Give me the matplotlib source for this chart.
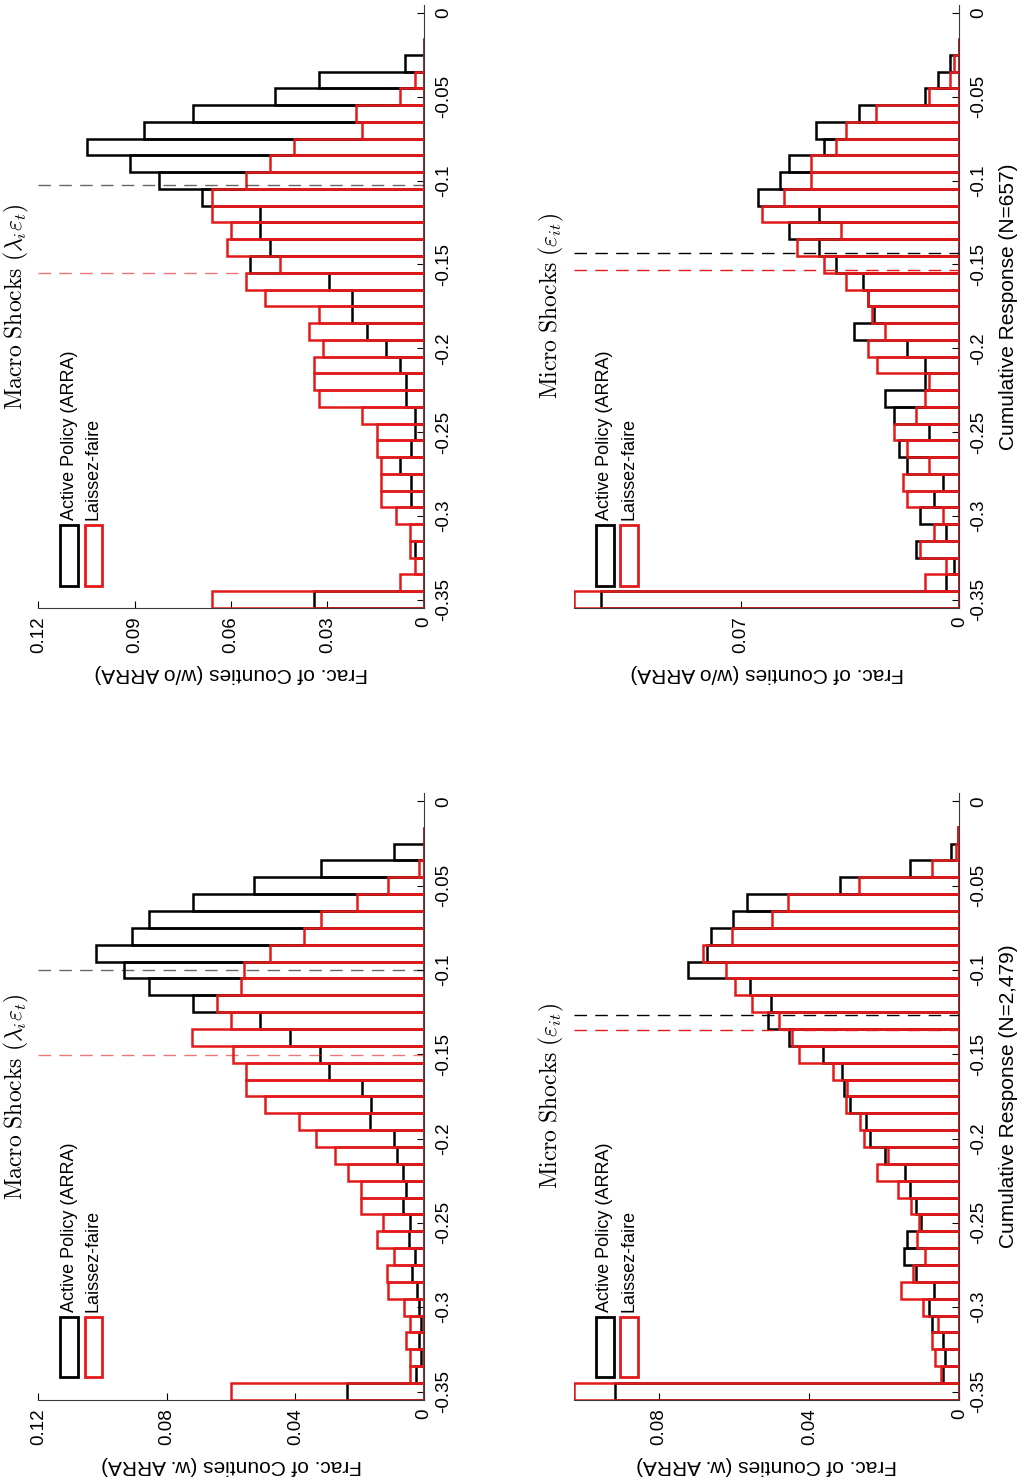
import numpy as np
import matplotlib
matplotlib.use("Agg")
import matplotlib.pyplot as plt
from matplotlib.patches import Rectangle

plt.rcParams['font.family'] = ['Liberation Sans', 'DejaVu Sans']
plt.rcParams['mathtext.fontset'] = 'cm'

# DATA ###############################################################
# bin centres of the cumulative response, lowest bin lumps everything <= -0.35
BIN_CENTERS = [-0.35, -0.34, -0.33, -0.32, -0.31, -0.30, -0.29, -0.28, -0.27,
               -0.26, -0.25, -0.24, -0.23, -0.22, -0.21, -0.20, -0.19, -0.18,
               -0.17, -0.16, -0.15, -0.14, -0.13, -0.12, -0.11, -0.10, -0.09,
               -0.08, -0.07, -0.06, -0.05, -0.04, -0.03, -0.02]
BIN_WIDTH = 0.01

# Macro shocks, w/o ARRA
macro_wo_active = [0.0343, 0.0, 0.0, 0.0028, 0.0, 0.0, 0.0041, 0.0041, 0.0073,
                   0.0041, 0.0028, 0.0028, 0.0057, 0.0057, 0.0073, 0.0117, 0.0176, 0.0223,
                   0.0223, 0.0296, 0.0540, 0.0480, 0.0509, 0.0509, 0.0689, 0.0823, 0.0914,
                   0.1049, 0.0871, 0.0719, 0.0464, 0.0327, 0.0059, 0.0]
macro_wo_laissez = [0.0660, 0.0073, 0.0028, 0.0044, 0.0044, 0.0088, 0.0132, 0.0132, 0.0132,
                    0.0147, 0.0147, 0.0192, 0.0327, 0.0343, 0.0343, 0.0314, 0.0358, 0.0327,
                    0.0493, 0.0554, 0.0449, 0.0613, 0.0599, 0.0660, 0.0660, 0.0554, 0.0480,
                    0.0405, 0.0192, 0.0210, 0.0073, 0.0028, 0.0, 0.0]

# Macro shocks, w. ARRA
macro_w_active = [0.0239, 0.0023, 0.0008, 0.0016, 0.0010, 0.0016, 0.0021, 0.0036, 0.0026,
                  0.0047, 0.0044, 0.0065, 0.0054, 0.0065, 0.0083, 0.0094, 0.0169, 0.0163,
                  0.0194, 0.0296, 0.0322, 0.0416, 0.0511, 0.0719, 0.0855, 0.0933, 0.1021,
                  0.0907, 0.0855, 0.0719, 0.0528, 0.0320, 0.0094, 0.0]
macro_w_laissez = [0.0600, 0.0042, 0.0044, 0.0057, 0.0042, 0.0062, 0.0111, 0.0116, 0.0094,
                   0.0145, 0.0127, 0.0197, 0.0197, 0.0236, 0.0275, 0.0335, 0.0388, 0.0494,
                   0.0554, 0.0554, 0.0595, 0.0722, 0.0600, 0.0644, 0.0569, 0.0559, 0.0480,
                   0.0374, 0.0320, 0.0208, 0.0111, 0.0014, 0.0, 0.0]

# Micro shocks, w/o ARRA
micro_wo_active = [0.1147, 0.0043, 0.0016, 0.0139, 0.0043, 0.0125, 0.0082, 0.0053, 0.0167,
                   0.0195, 0.0099, 0.0211, 0.0238, 0.0110, 0.0110, 0.0167, 0.0336, 0.0275,
                   0.0293, 0.0309, 0.0394, 0.0450, 0.0545, 0.0450, 0.0645, 0.0575, 0.0545,
                   0.0434, 0.0460, 0.0322, 0.0110, 0.0069, 0.0029, 0.0]
micro_wo_laissez = [0.1233, 0.0110, 0.0043, 0.0125, 0.0082, 0.0053, 0.0167, 0.0181, 0.0096,
                    0.0167, 0.0208, 0.0139, 0.0110, 0.0099, 0.0263, 0.0293, 0.0237, 0.0279,
                    0.0293, 0.0364, 0.0434, 0.0519, 0.0378, 0.0632, 0.0561, 0.0476, 0.0476,
                    0.0394, 0.0364, 0.0266, 0.0099, 0.0029, 0.0016, 0.0]

# Micro shocks, w. ARRA
micro_w_active = [0.0918, 0.0045, 0.0038, 0.0045, 0.0074, 0.0080, 0.0069, 0.0116, 0.0147,
                  0.0139, 0.0102, 0.0116, 0.0133, 0.0145, 0.0198, 0.0238, 0.0249, 0.0292,
                  0.0308, 0.0314, 0.0364, 0.0453, 0.0509, 0.0503, 0.0558, 0.0724, 0.0672,
                  0.0663, 0.0603, 0.0567, 0.0318, 0.0133, 0.0022, 0.0003]
micro_w_laissez = [0.1027, 0.0049, 0.0065, 0.0074, 0.0058, 0.0098, 0.0156, 0.0125, 0.0093,
                   0.0114, 0.0109, 0.0129, 0.0165, 0.0220, 0.0191, 0.0254, 0.0265, 0.0302,
                   0.0299, 0.0338, 0.0427, 0.0445, 0.0480, 0.0554, 0.0598, 0.0623, 0.0683,
                   0.0607, 0.0499, 0.0456, 0.0267, 0.0074, 0.0009, 0.0005]

# mean responses (dashed lines): [active, laissez-faire]
macro_wo_means = [-0.1028, -0.1550]
macro_w_means = [-0.0998, -0.1502]
micro_wo_means = [-0.1433, -0.1534]
micro_w_means = [-0.1267, -0.1356]

RESP_TICKS = [-0.35, -0.3, -0.25, -0.2, -0.15, -0.1, -0.05, 0]
RESP_TICKLABELS = ['-0.35', '-0.3', '-0.25', '-0.2', '-0.15', '-0.1', '-0.05', '0']

LEGEND_LABELS = ['Active Policy (ARRA)', 'Laissez-faire']

# STYLE ##############################################################
RED = '#e31a1c'
BLACK = '#000000'
BAR_LW = 1.8
FS_TICK = 13.5
FS_LABEL = 15
FS_TITLE = 17

# figure is drawn in portrait: response runs up, fraction grows to the left
fig = plt.figure(figsize=(10.24, 14.80), dpi=100)

COL_LEFT = [0.0374, 0.5605]
COL_W = 0.3765
ROW_BOTTOM = [0.5892, 0.0541]
ROW_H = [0.4077, 0.4101]

PANELS = [
    # col, row, title, active, laissez, means, xmax, xticks, fraclabel, resplabel, dash alpha
    (0, 0, r'$\mathrm{Macro\ Shocks}\ (\lambda_i\varepsilon_t)$', macro_wo_active, macro_wo_laissez,
     macro_wo_means, 0.12, [0, 0.03, 0.06, 0.09, 0.12], 'Frac. of Counties (w/o ARRA)', None, 0.6),
    (0, 1, r'$\mathrm{Macro\ Shocks}\ (\lambda_i\varepsilon_t)$', macro_w_active, macro_w_laissez,
     macro_w_means, 0.12, [0, 0.04, 0.08, 0.12], 'Frac. of Counties (w. ARRA)', None, 0.6),
    (1, 0, r'$\mathrm{Micro\ Shocks}\ (\varepsilon_{it})$', micro_wo_active, micro_wo_laissez,
     micro_wo_means, 0.1233, [0, 0.07], 'Frac. of Counties (w/o ARRA)',
     'Cumulative Response (N=657)', 1.0),
    (1, 1, r'$\mathrm{Micro\ Shocks}\ (\varepsilon_{it})$', micro_w_active, micro_w_laissez,
     micro_w_means, 0.1027, [0, 0.04, 0.08], 'Frac. of Counties (w. ARRA)',
     'Cumulative Response (N=2,479)', 1.0),
]

for col, row, title, active, laissez, means, xmax, xticks, fraclabel, resplabel, dalpha in PANELS:
    ax = fig.add_axes([COL_LEFT[col], ROW_BOTTOM[row], COL_W, ROW_H[row]])

    ax.barh(BIN_CENTERS, active, height=BIN_WIDTH, fill=False,
            edgecolor=BLACK, linewidth=BAR_LW, zorder=2)
    ax.barh(BIN_CENTERS, laissez, height=BIN_WIDTH, fill=False,
            edgecolor=RED, linewidth=BAR_LW, zorder=3)

    # mean lines
    ax.axhline(means[0], color=BLACK, lw=1.0, ls=(0, (9, 6)), alpha=dalpha, zorder=4)
    ax.axhline(means[1], color=RED, lw=1.0, ls=(0, (9, 6)), alpha=dalpha, zorder=4)

    ax.set_xlim(xmax, 0)
    ax.set_ylim(-0.355, 0.005)

    ax.spines['top'].set_visible(False)
    ax.spines['left'].set_visible(False)
    ax.spines['bottom'].set_color('#3a3a3a')
    ax.spines['right'].set_color('#3a3a3a')

    ax.set_xticks(xticks)
    ax.set_xticklabels(['0' if t == 0 else '{:g}'.format(t) for t in xticks])
    ax.tick_params(axis='x', direction='in', length=5, labelsize=FS_TICK,
                   labelrotation=90, pad=6)

    ax.yaxis.tick_right()
    ax.set_yticks(RESP_TICKS)
    ax.set_yticklabels(RESP_TICKLABELS)
    ax.tick_params(axis='y', direction='in', length=5, labelsize=FS_TICK,
                   labelrotation=90, pad=8)
    for lab in ax.get_yticklabels():
        lab.set_verticalalignment('center')

    ax.set_xlabel(fraclabel, fontsize=FS_LABEL, rotation=180, labelpad=8)
    if resplabel is not None:
        ax.yaxis.set_label_position('right')
        ax.set_ylabel(resplabel, fontsize=FS_LABEL, rotation=90, labelpad=8)

    # title sits to the left of the panel
    ax.text(-0.02, 0.5, title, transform=ax.transAxes, rotation=90,
            ha='right', va='center', fontsize=FS_TITLE)

    # hand-made legend (rotated)
    for k, (lab, colr) in enumerate(zip(LEGEND_LABELS, [BLACK, RED])):
        x0 = 0.057 + k * 0.063
        ax.add_patch(Rectangle((x0, 0.037), 0.046, 0.1, transform=ax.transAxes,
                               fill=False, edgecolor=colr, lw=2.0, clip_on=False, zorder=5))
        ax.text(x0 + 0.023, 0.145, lab, transform=ax.transAxes, rotation=90,
                ha='center', va='bottom', fontsize=13)

fig.savefig('out.png', dpi=100)
